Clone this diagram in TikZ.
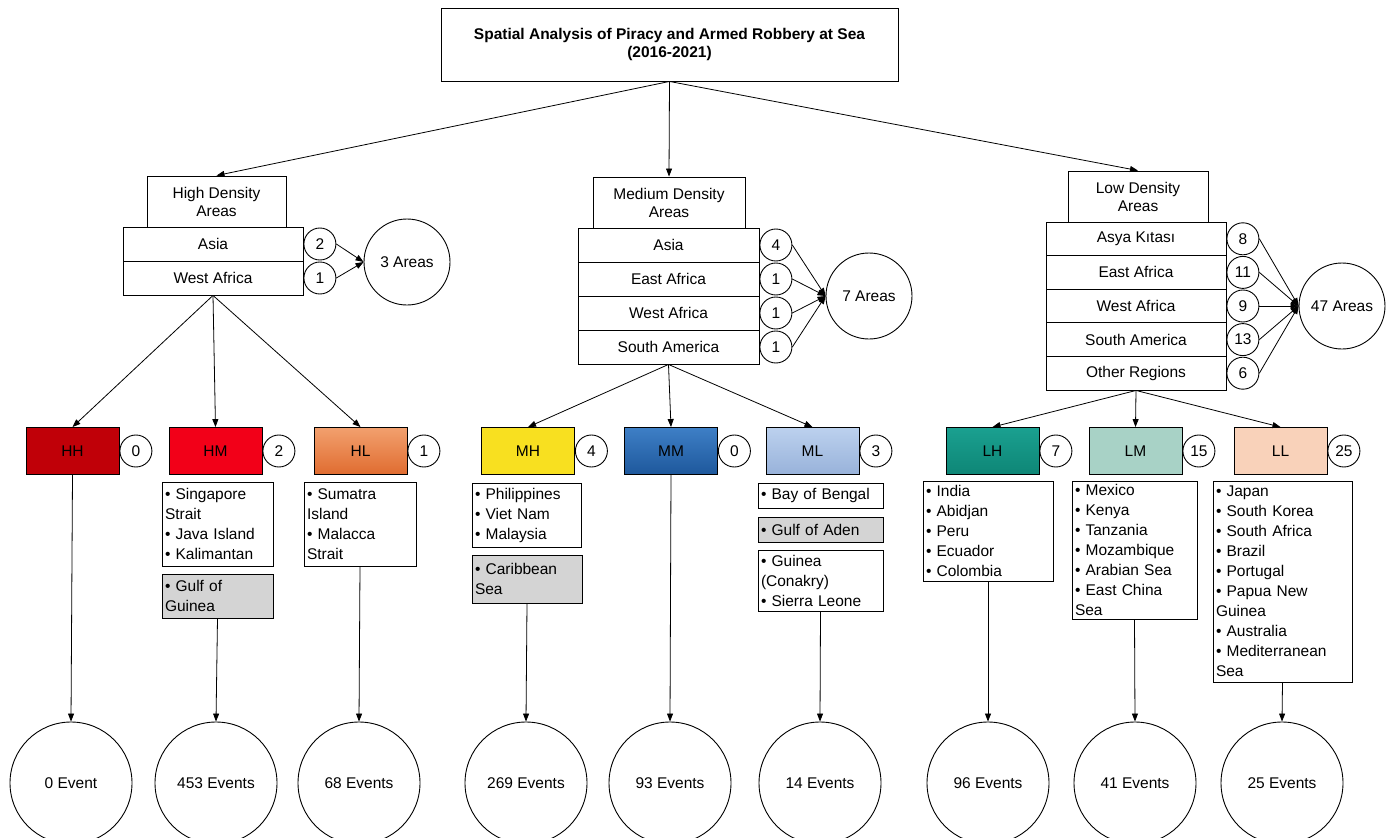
\documentclass[tikz,border=0pt]{standalone}
\usepackage{fontspec}
\setmainfont{Liberation Sans}
\usetikzlibrary{arrows.meta}
\definecolor{cHH}{HTML}{C00008}
\definecolor{cHM}{HTML}{F20018}
\definecolor{cHLt}{HTML}{F2A06E}
\definecolor{cHLb}{HTML}{E06C30}
\definecolor{cMH}{HTML}{F8E020}
\definecolor{cMMt}{HTML}{3E7FC6}
\definecolor{cMMb}{HTML}{1E589C}
\definecolor{cMLt}{HTML}{BCD1EE}
\definecolor{cMLb}{HTML}{98B2DA}
\definecolor{cLHt}{HTML}{1AA090}
\definecolor{cLHb}{HTML}{0E8676}
\definecolor{cLM}{HTML}{A8D2C6}
\definecolor{cLL}{HTML}{F9D2BA}
\definecolor{grayfill}{HTML}{D4D4D4}
\begin{document}
\begin{tikzpicture}[x=1pt,y=-1pt,
  every node/.style={font=\fontsize{15.5}{18}\selectfont, inner sep=0pt},
  box/.style={draw, line width=0.9pt, rectangle, align=center},
  lst/.style={box, align=left, inner xsep=3pt, font=\fontsize{15.5}{20}\selectfont},
  gbox/.style={lst, fill=grayfill},
  cnt/.style={draw, line width=0.9pt, circle, minimum size=32pt, anchor=west},
  big/.style={draw, line width=0.9pt, circle, minimum size=86pt},
  ev/.style={draw, line width=0.9pt, circle, minimum size=122pt},
  arr/.style={-{Triangle[length=8pt,width=6pt]}, line width=0.8pt},
  cat/.style={box, minimum width=93pt, minimum height=47pt}
]
\clip (0,0) rectangle (1393,838);
\fill[white] (0,0) rectangle (1393,838);

% title
\node[box, minimum width=457pt, minimum height=73pt, font=\fontsize{15.5}{18}\selectfont\bfseries] (title) at (669.5,44.5)
  {Spatial Analysis of Piracy and Armed Robbery at Sea\\(2016-2021)};

% headers
\node[box, minimum width=139pt, minimum height=51pt] (hd) at (216.5,201.5) {High Density\\Areas};
\node[box, minimum width=152pt, minimum height=51pt] (md) at (669,202.5) {Medium Density\\Areas};
\node[box, minimum width=140pt, minimum height=51pt] (ld) at (1138,196.5) {Low Density\\Areas};

% high rows
\node[box, minimum width=180pt, minimum height=34pt] (hr1) at (213,244) {Asia};
\node[box, minimum width=180pt, minimum height=34pt] (hr2) at (213,278) {West Africa};
\node[cnt] (hc1) at (hr1.east) {2};
\node[cnt] (hc2) at (hr2.east) {1};
\node[big] (ha) at (407,262) {3 Areas};

% medium rows
\node[box, minimum width=181pt, minimum height=34pt] (mr1) at (668.5,245) {Asia};
\node[box, minimum width=181pt, minimum height=34pt] (mr2) at (668.5,279) {East Africa};
\node[box, minimum width=181pt, minimum height=34pt] (mr3) at (668.5,313) {West Africa};
\node[box, minimum width=181pt, minimum height=34pt] (mr4) at (668.5,347) {South America};
\node[cnt] (mc1) at (mr1.east) {4};
\node[cnt] (mc2) at (mr2.east) {1};
\node[cnt] (mc3) at (mr3.east) {1};
\node[cnt] (mc4) at (mr4.east) {1};
\node[big] (ma) at (869,296) {7 Areas};

% low rows
\node[box, minimum width=180pt, minimum height=33.6pt] (lr1) at (1136,238.8) {Asya Kıtası};
\node[box, minimum width=180pt, minimum height=33.6pt] (lr2) at (1136,272.4) {East Africa};
\node[box, minimum width=180pt, minimum height=33.6pt] (lr3) at (1136,306) {West Africa};
\node[box, minimum width=180pt, minimum height=33.6pt] (lr4) at (1136,339.6) {South America};
\node[box, minimum width=180pt, minimum height=33.6pt] (lr5) at (1136,373.2) {Other Regions};
\node[cnt] (lc1) at (lr1.east) {8};
\node[cnt] (lc2) at (lr2.east) {11};
\node[cnt] (lc3) at (lr3.east) {9};
\node[cnt] (lc4) at (lr4.east) {13};
\node[cnt] (lc5) at (lr5.east) {6};
\node[big] (la) at (1342,306) {47 Areas};

% category boxes
\node[cat, fill=cHH] (HH) at (72.5,451) {HH};
\node[cat, fill=cHM] (HM) at (215.5,451) {HM};
\node[cat, top color=cHLt, bottom color=cHLb] (HL) at (360.5,451) {HL};
\node[cat, fill=cMH] (MH) at (528,451) {MH};
\node[cat, top color=cMMt, bottom color=cMMb] (MM) at (671,451) {MM};
\node[cat, top color=cMLt, bottom color=cMLb] (ML) at (812.5,451) {ML};
\node[cat, top color=cLHt, bottom color=cLHb] (LH) at (992.5,451) {LH};
\node[cat, fill=cLM] (LM) at (1135.5,451) {LM};
\node[cat, fill=cLL] (LL) at (1280.5,451) {LL};
\node[cnt] (nHH) at (HH.east) {0};
\node[cnt] (nHM) at (HM.east) {2};
\node[cnt] (nHL) at (HL.east) {1};
\node[cnt] (nMH) at (MH.east) {4};
\node[cnt] (nMM) at (MM.east) {0};
\node[cnt] (nML) at (ML.east) {3};
\node[cnt] (nLH) at (LH.east) {7};
\node[cnt] (nLM) at (LM.east) {15};
\node[cnt] (nLL) at (LL.east) {25};

% list boxes
\node[lst, text width=105pt, minimum height=84pt] (HMl) at (217.5,524)
  {• Singapore\\Strait\\• Java Island\\• Kalimantan};
\node[gbox, text width=105pt, minimum height=44pt] (HMg) at (217.5,596)
  {• Gulf of\\Guinea};
\node[lst, text width=106pt, minimum height=84pt] (HLl) at (360,524)
  {• Sumatra\\Island\\• Malacca\\Strait};
\node[lst, text width=103pt, minimum height=64pt] (MHl) at (526.5,515)
  {• Philippines\\• Viet Nam\\• Malaysia};
\node[gbox, text width=104pt, minimum height=48pt] (MHg) at (527,579)
  {• Caribbean\\Sea};
\node[lst, text width=119pt, minimum height=25pt] (MLb) at (820.5,495.5)
  {• Bay of Bengal};
\node[gbox, text width=119pt, minimum height=25pt] (MLa) at (820.5,529.5)
  {• Gulf of Aden};
\node[lst, text width=119pt, minimum height=61pt] (MLg) at (820.5,580.5)
  {• Guinea\\(Conakry)\\• Sierra Leone};
\node[lst, text width=124pt, minimum height=100pt] (LHl) at (988,531)
  {• India\\• Abidjan\\• Peru\\• Ecuador\\• Colombia};
\node[lst, text width=119pt, minimum height=138pt] (LMl) at (1134.5,550)
  {• Mexico\\• Kenya\\• Tanzania\\• Mozambique\\• Arabian Sea\\• East China\\Sea};
\node[lst, text width=133pt, minimum height=201pt] (LLl) at (1282.5,581.5)
  {• Japan\\• South Korea\\• South Africa\\• Brazil\\• Portugal\\• Papua New\\Guinea\\• Australia\\• Mediterranean\\Sea};

% event circles
\node[ev] (eHH) at (71,783) {0 Event};
\node[ev] (eHM) at (216,783) {453 Events};
\node[ev] (eHL) at (359,783) {68 Events};
\node[ev] (eMH) at (526,783) {269 Events};
\node[ev] (eMM) at (670,783) {93 Events};
\node[ev] (eML) at (820,783) {14 Events};
\node[ev] (eLH) at (988,783) {96 Events};
\node[ev] (eLM) at (1135,783) {41 Events};
\node[ev] (eLL) at (1282,783) {25 Events};

% connectors
\draw[arr] (title.south) -- (hd.north);
\draw[arr] (title.south) -- (md.north);
\draw[arr] (title.south) -- (ld.north);

\foreach \c in {hc1,hc2} \draw[arr] (\c.east) -- (ha.west);
\foreach \c in {mc1,mc2,mc3,mc4} \draw[arr] (\c.east) -- (ma.west);
\foreach \c in {lc1,lc2,lc3,lc4,lc5} \draw[arr] (\c.east) -- (la.west);

\foreach \t in {HH,HM,HL} \draw[arr] (hr2.south) -- (\t.north);
\foreach \t in {MH,MM,ML} \draw[arr] (mr4.south) -- (\t.north);
\foreach \t in {LH,LM,LL} \draw[arr] (lr5.south) -- (\t.north);

\draw[arr] (HH.south) -- (eHH.north);
\draw[arr] (HMg.south) -- (eHM.north);
\draw[arr] (HLl.south) -- (eHL.north);
\draw[arr] (MHg.south) -- (eMH.north);
\draw[arr] (MM.south) -- (eMM.north);
\draw[arr] (MLg.south) -- (eML.north);
\draw[arr] (LHl.south) -- (eLH.north);
\draw[arr] (LMl.south) -- (eLM.north);
\draw[arr] (LLl.south) -- (eLL.north);
\end{tikzpicture}
\end{document}
